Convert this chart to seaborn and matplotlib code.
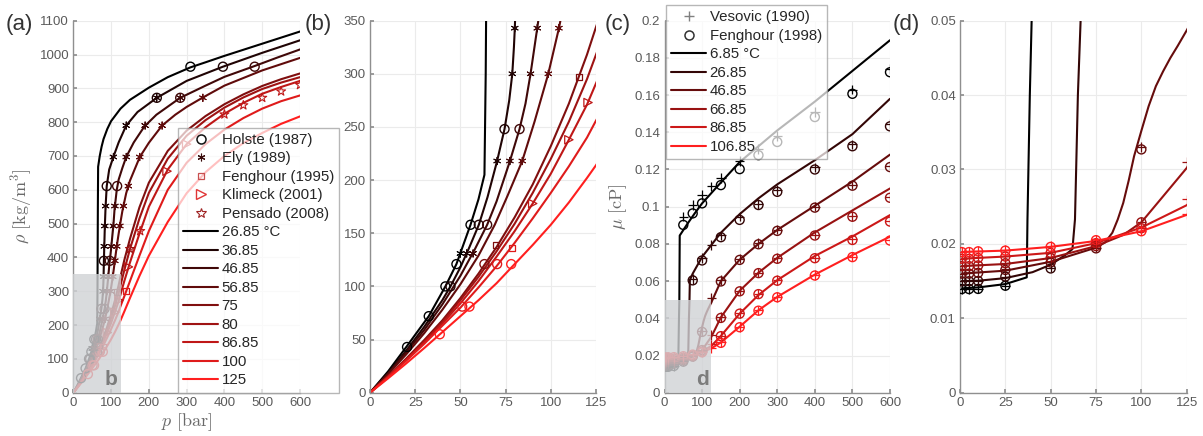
import numpy as np
import pandas as pd
import matplotlib
matplotlib.use("Agg")
import matplotlib.pyplot as plt
from matplotlib.lines import Line2D
from matplotlib.patches import Rectangle
from matplotlib.ticker import FuncFormatter
import seaborn as sns

# ------------------------------------------------------------------
# CO2 density isotherms, model curves (p in bar, rho in kg/m3)
# ------------------------------------------------------------------
rho_temps = ["26.85", "36.85", "46.85", "56.85", "75", "80", "86.85", "100", "125"]

p_rho_2685 = [0, 10, 20.5, 32.5, 41.7, 47.8, 55.6, 60, 63.3, 64.0, 64.5, 65.0, 65.7,
              70, 75, 80, 90, 100, 125, 150, 200, 250, 310, 350, 400, 450, 500, 550, 600]
rho_2685 = [0, 20, 44, 72, 100, 121, 158, 182, 205, 300, 420, 550, 668,
            700, 728, 750, 780, 803, 840, 866, 902, 933, 962, 977, 996, 1014, 1032, 1050, 1068]

p_rho_3685 = [0, 10, 20, 30, 40, 44.5, 50, 55, 60.2, 65, 70.3, 74.4, 77, 78.7, 79.6, 80.1,
              81, 82, 83.5, 85.5, 88.5, 95, 106, 120, 140, 170, 221, 300, 396, 500, 600]
rho_3685 = [0, 18.5, 39.5, 62, 87, 100, 118, 137, 158, 184, 218, 248, 275, 300, 325, 343,
            390, 433, 493, 552, 611, 660, 697, 740, 790, 830, 872, 922, 964, 1005, 1042]

p_rho_4685 = [0, 10, 20, 30, 40, 50, 58, 64.8, 70, 77.4, 82.7, 86, 88.8, 92.5, 96, 100, 103,
              106, 109, 115, 120, 130, 140, 160, 188, 220, 283, 350, 400, 480, 540, 600]
rho_4685 = [0, 18, 38, 59, 83, 110, 135, 158, 180, 218, 248, 272, 300, 343, 385, 425, 460,
            493, 540, 600, 630, 665, 697, 740, 787, 822, 872, 908, 934, 966, 991, 1015]

p_rho_5685 = [0, 10, 20, 30, 40, 50, 60, 69, 76, 84.2, 91, 98.6, 104.5, 110, 115, 120, 125,
              130, 140, 150, 176, 200, 235, 270, 300, 343, 400, 500, 600]
rho_5685 = [0, 17.5, 36, 56, 78, 102, 129, 158, 185, 218, 255, 300, 343, 390, 433, 470, 505,
            538, 590, 627, 697, 739, 790, 822, 845, 873, 908, 953, 990]

p_rho_hot = [0, 10, 20, 30, 40, 50, 60, 70, 80, 90, 100, 110, 120, 125, 135, 150, 175, 200,
             250, 300, 350, 400, 450, 500, 550, 600]
rho_75 = [0, 15.5, 32, 49.5, 68, 89, 112, 137, 165, 196, 232, 272, 318, 344, 392, 455, 548,
          621, 715, 775, 818, 853, 882, 907, 927, 944]
rho_80 = [0, 15.3, 31.5, 48.5, 66.5, 87, 109, 133, 159, 188, 220, 255, 295, 318, 362, 425,
          515, 591, 692, 760, 806, 843, 873, 898, 917, 933]
rho_8685 = [0, 15, 31, 47.5, 65, 84, 105, 128, 152, 178, 206, 238, 271, 291, 330, 385, 470,
            550, 660, 735, 785, 825, 857, 884, 904, 922]
rho_100 = [0, 14.5, 30, 46, 63, 80, 99, 119, 141, 164, 188, 213, 240, 256, 285, 330, 405,
           478, 600, 680, 735, 778, 812, 840, 862, 879]
rho_125 = [0, 13.5, 27.5, 42, 57, 72, 87, 103, 121, 139, 158, 179, 202, 214, 240, 280, 345,
           405, 505, 590, 652, 700, 738, 768, 795, 817]

# Experimental densities
holste_T = ["26.85", "26.85", "26.85", "36.85", "26.85", "26.85", "36.85", "46.85",
            "36.85", "46.85", "36.85", "46.85", "36.85", "46.85", "36.85", "46.85",
            "26.85", "36.85", "46.85", "75", "100", "125", "100", "125", "125"]
holste_p = [20.5, 32.5, 41.7, 44.5, 47.8, 55.6, 60.2, 64.8, 74.4, 82.7, 81, 96.5, 88.5,
            116, 221, 283, 310, 396, 480, 63.3, 70.3, 78.1, 51, 55, 38.6]
holste_rho = [43, 72, 100, 100, 121, 158, 158, 158, 248, 248, 390, 390, 611, 611, 872,
              872, 964, 964, 964, 121, 121, 121, 81, 81, 55]

ely_T = ["26.85", "36.85", "46.85",
         "36.85", "46.85", "56.85", "36.85", "46.85", "56.85", "36.85", "46.85", "56.85",
         "56.85", "36.85", "46.85", "56.85", "36.85", "46.85", "56.85", "36.85", "46.85",
         "56.85", "56.85", "36.85", "46.85", "56.85", "36.85", "46.85", "56.85",
         "36.85", "46.85", "56.85"]
ely_p = [50, 53.5, 57,
         70.3, 77.4, 84.2, 78.7, 88.8, 98.6, 80.1, 92.5, 104.5,
         110, 82, 100.7, 115, 83.5, 106, 123.3, 85.5, 110.2, 132.7,
         145.7, 106, 140, 176, 140, 190, 235,
         221, 283, 343]
ely_rho = [131, 131, 131,
           218, 218, 218, 300, 300, 300, 343, 343, 343,
           390, 433, 433, 433, 493, 493, 493, 552, 552, 552,
           611, 697, 697, 697, 790, 790, 790,
           872, 872, 872]

fen95_T = ["75", "75", "100", "100"]
fen95_p = [115.6, 69.4, 78.6, 140]
fen95_rho = [297, 139, 136, 300]

klim_T = ["86.85"] * 6
klim_p = [90, 110, 120.6, 146, 248, 300]
klim_rho = [178, 238, 273, 372, 655, 735]

pens_T = ["80", "86.85", "86.85", "86.85", "86.85", "86.85", "86.85"]
pens_p = [150, 177, 400, 450, 500, 550, 600]
pens_rho = [425, 478, 823, 850, 872, 891, 910]

# ------------------------------------------------------------------
# CO2 viscosity isotherms, model curves (p in bar, mu in cP)
# ------------------------------------------------------------------
mu_temps = ["6.85", "26.85", "46.85", "66.85", "86.85", "106.85"]

p_mu_685 = [0, 10, 25, 36.8, 37.2, 38.5, 39.5, 40.5, 60, 80, 100, 150, 200, 250, 300, 400, 500, 600]
mu_685 = [0.0140, 0.01415, 0.0146, 0.0155, 0.0233, 0.040, 0.050, 0.0845, 0.0905, 0.0963,
          0.1018, 0.1130, 0.1240, 0.1325, 0.1410, 0.1565, 0.1730, 0.1895]

p_mu_2685 = [0, 10, 25, 40, 50, 58, 62, 63.4, 65, 66.5, 67.5, 75, 100, 150, 200, 250, 300, 400, 500, 600]
mu_2685 = [0.0150, 0.01505, 0.0154, 0.0162, 0.0172, 0.0185, 0.0193, 0.0233, 0.040, 0.050,
           0.0605, 0.0640, 0.0730, 0.0860, 0.0960, 0.1045, 0.1120, 0.1250, 0.1390, 0.1580]

p_mu_4685 = [0, 25, 50, 75, 80, 84, 87, 90, 93, 96, 100, 104, 108, 112, 116, 120, 125, 150,
             200, 250, 300, 400, 500, 600]
mu_4685 = [0.0160, 0.0164, 0.0176, 0.0195, 0.0202, 0.0215, 0.0233, 0.0255, 0.0285, 0.0318,
           0.0352, 0.0385, 0.0412, 0.0432, 0.0450, 0.0466, 0.0487, 0.0600,
           0.0715, 0.0800, 0.0875, 0.1005, 0.1135, 0.1280]

p_mu_6685 = [0, 25, 50, 75, 90, 100, 112, 125, 150, 200, 250, 300, 400, 500, 600]
mu_6685 = [0.0170, 0.0173, 0.0181, 0.0197, 0.0212, 0.0229, 0.0264, 0.0302, 0.0405, 0.0548,
           0.0645, 0.0725, 0.0862, 0.0980, 0.1098]

p_mu_hot = [0, 25, 50, 75, 100, 125, 150, 200, 250, 300, 400, 500, 600]
mu_8685 = [0.0180, 0.0183, 0.0188, 0.0201, 0.0222, 0.0252, 0.0305, 0.0425, 0.0525, 0.0605,
           0.0735, 0.0840, 0.0955]
mu_10685 = [0.0189, 0.0191, 0.0196, 0.0204, 0.0217, 0.0239, 0.0270, 0.0355, 0.0443, 0.0515,
            0.0635, 0.0740, 0.0839]

# Experimental viscosities
p_exp = [1, 5, 10, 25, 50, 75, 100, 150, 200, 250, 300, 400, 500, 600]
fen98_685 = [0.01393, 0.01393, 0.01395, 0.01438, 0.0902, 0.0964, 0.1018, 0.1116, 0.1202,
             0.1277, 0.1348, 0.1482, 0.1607, 0.1723]
fen98_2685 = [0.01496, 0.01498, 0.01502, 0.0156, 0.0167, 0.0604, 0.0711, 0.0836, 0.0929,
              0.1009, 0.1080, 0.1200, 0.1325, 0.1432]
fen98_4685 = [0.0160, 0.0160, 0.0161, 0.0165, 0.0175, 0.0194, 0.0327, 0.0598, 0.0714,
              0.0798, 0.0870, 0.0995, 0.1113, 0.1213]
fen98_6685 = [0.0170, 0.0170, 0.0171, 0.0174, 0.0181, 0.0197, 0.0229, 0.0402, 0.0545,
              0.0643, 0.0720, 0.0845, 0.0946, 0.1048]
fen98_8685 = [0.0180, 0.0180, 0.0181, 0.0183, 0.0188, 0.0201, 0.0221, 0.0304, 0.0425,
              0.0530, 0.0602, 0.0723, 0.0821, 0.0920]
fen98_10685 = [0.0189, 0.0189, 0.0190, 0.0191, 0.0196, 0.0205, 0.0217, 0.0268, 0.0352,
               0.0441, 0.0513, 0.0630, 0.0729, 0.0818]

ves_p = [1, 5, 10, 25, 50, 75, 100, 125, 150, 200, 250, 300, 400, 500, 600]
ves_685 = [0.01395, 0.01395, 0.01397, 0.0144, 0.0946, 0.1009, 0.1063, 0.1110, 0.1155,
           0.1245, 0.1310, 0.1380, 0.1509, 0.1630, 0.1741]
ves_2685 = [0.01498, 0.01500, 0.01505, 0.0156, 0.0168, 0.0612, 0.0725, 0.0795, 0.0846,
            0.0946, 0.1015, 0.1090, 0.1212, 0.1335, 0.1445]
ves_4685 = [0.0160, 0.0161, 0.0162, 0.0166, 0.0176, 0.0195, 0.0330, 0.0509, 0.0605,
            0.0720, 0.0805, 0.0876, 0.1000, 0.1118, 0.1220]
ves_6685 = [0.0170, 0.0171, 0.0172, 0.0175, 0.0182, 0.0198, 0.0230, 0.0310, 0.0406,
            0.0548, 0.0646, 0.0724, 0.0849, 0.0950, 0.1052]
ves_8685 = [0.0180, 0.0181, 0.0182, 0.0184, 0.0189, 0.0202, 0.0222, 0.0260, 0.0306,
            0.0428, 0.0533, 0.0605, 0.0726, 0.0824, 0.0924]
ves_10685 = [0.0189, 0.0190, 0.0191, 0.0192, 0.0197, 0.0206, 0.0218, 0.0240, 0.0270,
             0.0354, 0.0443, 0.0515, 0.0633, 0.0732, 0.0821]

# ------------------------------------------------------------------
# Tidy tables
# ------------------------------------------------------------------
def long_table(temps, ps, vs):
    frames = [pd.DataFrame({"T": t, "p": p, "v": v}) for t, p, v in zip(temps, ps, vs)]
    return pd.concat(frames, ignore_index=True)

rho_curves = long_table(
    rho_temps,
    [p_rho_2685, p_rho_3685, p_rho_4685, p_rho_5685] + [p_rho_hot] * 5,
    [rho_2685, rho_3685, rho_4685, rho_5685, rho_75, rho_80, rho_8685, rho_100, rho_125])
mu_curves = long_table(
    mu_temps,
    [p_mu_685, p_mu_2685, p_mu_4685, p_mu_6685, p_mu_hot, p_mu_hot],
    [mu_685, mu_2685, mu_4685, mu_6685, mu_8685, mu_10685])

holste = pd.DataFrame({"T": holste_T, "p": holste_p, "v": holste_rho})
ely = pd.DataFrame({"T": ely_T, "p": ely_p, "v": ely_rho})
fen95 = pd.DataFrame({"T": fen95_T, "p": fen95_p, "v": fen95_rho})
klim = pd.DataFrame({"T": klim_T, "p": klim_p, "v": klim_rho})
pens = pd.DataFrame({"T": pens_T, "p": pens_p, "v": pens_rho})
fen98 = long_table(mu_temps, [p_exp] * 6,
                   [fen98_685, fen98_2685, fen98_4685, fen98_6685, fen98_8685, fen98_10685])
ves = long_table(mu_temps, [ves_p] * 6,
                 [ves_685, ves_2685, ves_4685, ves_6685, ves_8685, ves_10685])

def ramp(n):
    return [(t, 0.12 * t, 0.12 * t) for t in np.linspace(0, 1, n)]

rho_pal = dict(zip(rho_temps, ramp(len(rho_temps))))
mu_pal = dict(zip(mu_temps, ramp(len(mu_temps))))

# ------------------------------------------------------------------
# Style
# ------------------------------------------------------------------
sns.set_theme(style="whitegrid", rc={
    "grid.color": "#ebebeb", "grid.linewidth": 0.8,
    "axes.edgecolor": "#8f8f8f", "axes.linewidth": 1.0,
    "xtick.color": "#8f8f8f", "ytick.color": "#8f8f8f",
    "xtick.labelcolor": "#5a5a5a", "ytick.labelcolor": "#5a5a5a",
    "xtick.direction": "in", "ytick.direction": "in",
    "xtick.major.size": 3, "ytick.major.size": 3,
    "xtick.bottom": True, "ytick.left": True,
    "xtick.labelsize": 9.5, "ytick.labelsize": 9.5,
})
plt.rcParams["font.family"] = ["Liberation Sans", "DejaVu Sans"]
plt.rcParams["mathtext.fontset"] = "cm"

W, H = 1203, 436
fig = plt.figure(figsize=(W / 100, H / 100), dpi=100)

def add_axes(x0, x1):
    return fig.add_axes([x0 / W, 43.3 / H, (x1 - x0) / W, 372 / H])

ax_a = add_axes(73.3, 300.0)
ax_b = add_axes(370.0, 596.0)
ax_c = add_axes(664.5, 890.0)
ax_d = add_axes(960.0, 1186.7)

LW = 1.5

def curves(ax, df, pal):
    sns.lineplot(data=df, x="p", y="v", hue="T", hue_order=list(pal), palette=pal,
                 sort=False, estimator=None, legend=False, lw=LW, ax=ax)

def open_markers(ax, df, pal, marker, s, lw=1.0):
    sns.scatterplot(data=df, x="p", y="v", hue="T", palette=pal, marker=marker, s=s,
                    legend=False, ax=ax, zorder=3)
    coll = ax.collections[-1]
    fc = coll.get_facecolors()
    coll.set_edgecolors(fc)
    coll.set_facecolors("none")
    coll.set_linewidths(lw)

ASTER = (6, 2, 0)

for ax in (ax_a, ax_b):
    curves(ax, rho_curves, rho_pal)
    open_markers(ax, holste, rho_pal, "o", 42)
    open_markers(ax, ely, rho_pal, ASTER, 28, 0.7)
    open_markers(ax, fen95, rho_pal, "s", 16, 0.9)
    open_markers(ax, klim, rho_pal, ">", 36, 0.9)
    open_markers(ax, pens, rho_pal, "*", 46, 0.8)

for ax in (ax_c, ax_d):
    curves(ax, mu_curves, mu_pal)
    open_markers(ax, fen98, mu_pal, "o", 42)
    open_markers(ax, ves, mu_pal, "+", 46, 0.9)

def frame(ax, xlim, xticks, ylim, yticks, fmt=None):
    ax.set_xlim(*xlim)
    ax.set_ylim(*ylim)
    ax.set_xticks(xticks)
    ax.set_yticks(yticks)
    if fmt is not None:
        ax.yaxis.set_major_formatter(FuncFormatter(fmt))
    for side in ("top", "right"):
        ax.spines[side].set_visible(False)
    ax.set_axisbelow(True)
    ax.set_xlabel("")
    ax.set_ylabel("")
    ax.tick_params(pad=3)

vis_fmt = lambda v, _: "0" if abs(v) < 1e-12 else f"{v:g}"
frame(ax_a, (0, 600), np.arange(0, 601, 100), (0, 1100), np.arange(0, 1101, 100))
frame(ax_b, (0, 125), np.arange(0, 126, 25), (0, 350), np.arange(0, 351, 50))
frame(ax_c, (0, 600), np.arange(0, 601, 100), (0, 0.2), np.arange(0, 0.2001, 0.02), vis_fmt)
frame(ax_d, (0, 125), np.arange(0, 126, 25), (0, 0.05), np.arange(0, 0.0501, 0.01), vis_fmt)

label_col = "#6a6a6a"
ax_a.set_ylabel(r"$\rho\ [\mathrm{kg/m^3}]$", fontsize=13, color=label_col, labelpad=4)
ax_a.set_xlabel(r"$p\ [\mathrm{bar}]$", fontsize=13, color=label_col, labelpad=2)
ax_c.set_ylabel(r"$\mu\ [\mathrm{cP}]$", fontsize=13, color=label_col, labelpad=4)

# zoom windows
for ax, h, tag in ((ax_a, 350, "b"), (ax_c, 0.05, "d")):
    ax.add_patch(Rectangle((0, 0), 125, h, facecolor="#d0d2d5", edgecolor="none",
                           alpha=0.8, zorder=4))
    ax.text(118, h * 0.035, tag, ha="right", va="bottom", fontsize=15,
            fontweight="bold", color="#7c7c7c", zorder=5)

# legends
leg_kw = dict(frameon=True, fancybox=False, framealpha=0.72, edgecolor="#9c9c9c",
              fontsize=10.8, handlelength=2.3, handletextpad=0.25, labelspacing=0.30,
              borderpad=0.35, borderaxespad=0)

rho_cols = list(rho_pal.values())
h_a = [
    Line2D([], [], ls="none", marker="o", mfc="none", mec="#111111", ms=6.5, mew=1.1, label="Holste (1987)"),
    Line2D([], [], ls="none", marker=ASTER, mec="#3a0c0c", ms=5.5, mew=0.8, label="Ely (1989)"),
    Line2D([], [], ls="none", marker="s", mfc="none", mec="#c85050", ms=4.5, mew=0.9, label="Fenghour (1995)"),
    Line2D([], [], ls="none", marker=">", mfc="none", mec="#e03535", ms=7, mew=1.0, label="Klimeck (2001)"),
    Line2D([], [], ls="none", marker="*", mfc="none", mec="#a02525", ms=7.5, mew=0.8, label="Pensado (2008)"),
]
for t, c in zip(rho_temps, rho_cols):
    h_a.append(Line2D([], [], color=c, lw=LW, label=(t + " \u00b0C") if t == rho_temps[0] else t))
leg_a = ax_a.legend(handles=h_a, loc="lower left", bbox_to_anchor=(0.462, 0.0), **leg_kw)
leg_a.set_zorder(10)

mu_cols = list(mu_pal.values())
h_c = [
    Line2D([], [], ls="none", marker="+", mec="#808080", ms=7, mew=1.0, label="Vesovic (1990)"),
    Line2D([], [], ls="none", marker="o", mfc="none", mec="#333333", ms=6.5, mew=1.1, label="Fenghour (1998)"),
]
for t, c in zip(mu_temps, mu_cols):
    h_c.append(Line2D([], [], color=c, lw=LW, label=(t + " \u00b0C") if t == mu_temps[0] else t))
leg_c = ax_c.legend(handles=h_c, loc="upper left", bbox_to_anchor=(0.0067, 1.042), **leg_kw)
leg_c.set_zorder(10)

for leg in (leg_a, leg_c):
    for txt in leg.get_texts():
        txt.set_color("#262626")

# panel tags
for x, tag in ((6, "(a)"), (305, "(b)"), (605, "(c)"), (893, "(d)")):
    fig.text(x / W, 1 - 30 / H, tag, fontsize=16, color="#333333", va="baseline", ha="left")

fig.savefig("out.png", dpi=100)
